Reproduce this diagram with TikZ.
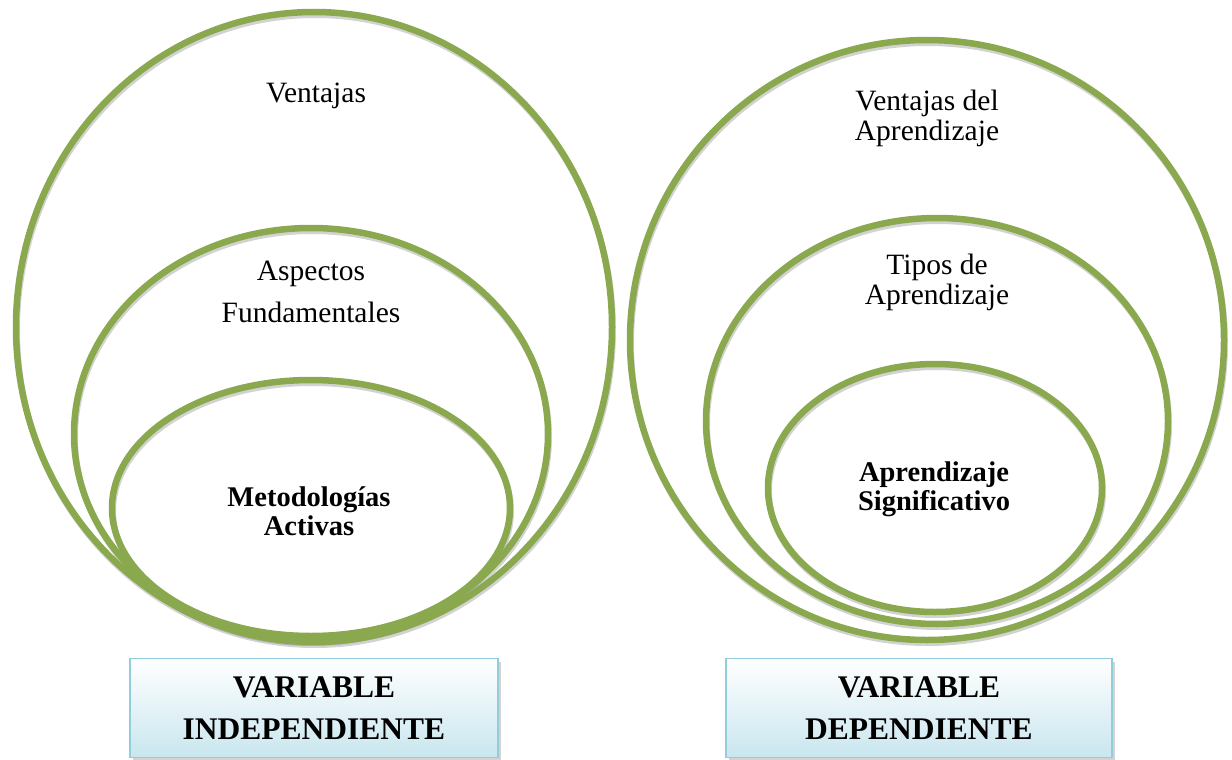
\documentclass[tikz,border=0pt]{standalone}
\usepackage{fontspec}
\setmainfont{Liberation Serif}
\usetikzlibrary{shadows}

\definecolor{verde}{HTML}{8AA94F}
\definecolor{celeste}{HTML}{93CDDD}
\definecolor{celesteclaro}{HTML}{C9E6EF}

\tikzset{
  anillo/.style={draw=verde, line width=6.5pt},
  sombra/.style={draw=black!70, line width=6pt, opacity=0.25},
  texto/.style={align=center, font=\fontsize{29.5}{30}\selectfont},
  negrita/.style={align=center, font=\fontsize{28.5}{29}\selectfont\bfseries},
  caja/.style={draw=celeste, line width=1.5pt, top color=white, bottom color=celesteclaro,
    minimum width=368pt, minimum height=99pt, align=center,
    font=\fontsize{31.5}{42}\selectfont\bfseries,
    drop shadow={opacity=0.35, shadow xshift=3pt, shadow yshift=-3pt}}
}

\begin{document}
\begin{tikzpicture}[x=1pt, y=-1pt]
        \useasboundingbox (0,0) rectangle (1232,760);
        % sombras
        \draw[sombra] (315,330) ellipse [x radius=298pt, y radius=315pt];
        \draw[sombra] (312,437) ellipse [x radius=237pt, y radius=206pt];
        \draw[sombra] (312,511) ellipse [x radius=199pt, y radius=128pt];
        \draw[sombra] (928,343) ellipse [x radius=297pt, y radius=300pt];
        \draw[sombra] (938,424) ellipse [x radius=231pt, y radius=203pt];
        \draw[sombra] (936,491) ellipse [x radius=167pt, y radius=124pt];
        % variable independiente
        \draw[anillo] (314,327) ellipse [x radius=298pt, y radius=315pt];
        \draw[anillo] (311,434) ellipse [x radius=237pt, y radius=206pt];
        \draw[anillo] (311,508) ellipse [x radius=199pt, y radius=128pt];
        % variable dependiente
        \draw[anillo] (927,340) ellipse [x radius=297pt, y radius=300pt];
        \draw[anillo] (937,421) ellipse [x radius=231pt, y radius=203pt];
        \draw[anillo] (935,488) ellipse [x radius=167pt, y radius=124pt];

        \node[texto] (ventajas) at (316,96) {Ventajas};
        \node[texto, font=\fontsize{29.5}{42}\selectfont] (aspectos) at (311,292) {Aspectos\\Fundamentales};
        \node[negrita] (metodologias) at (309,511) {Metodologías\\Activas};

        \node[texto] (ventajasap) at (927,118) {Ventajas del\\Aprendizaje};
        \node[texto] (tipos) at (937,282) {Tipos de\\Aprendizaje};
        \node[negrita] (significativo) at (934,489) {Aprendizaje\\Significativo};

        \node[caja] (indep) at (314,708) {VARIABLE\\INDEPENDIENTE};
        \node[caja, minimum width=386pt] (dep) at (919,708) {VARIABLE\\DEPENDIENTE};
\end{tikzpicture}
\end{document}
